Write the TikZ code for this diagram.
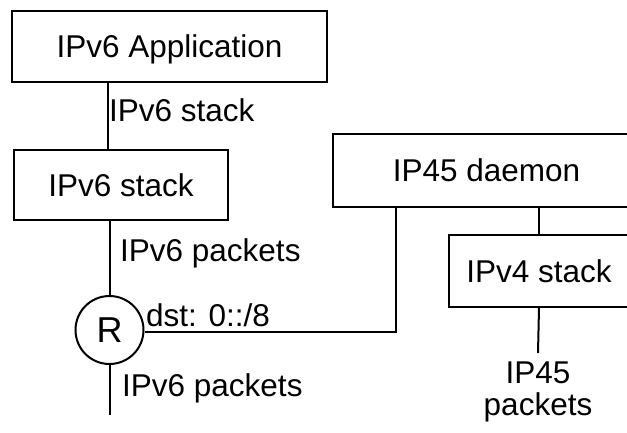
\documentclass[tikz,border=0pt]{standalone}
\usepackage{fontspec}
\setmainfont{Liberation Sans}
\begin{document}
\begin{tikzpicture}[x=1pt,y=-1pt,
  every node/.style={font=\fontsize{31.5pt}{32pt}\selectfont},
  boxnode/.style={draw, line width=2pt, rectangle, inner sep=0pt, text height=22.5pt, text depth=0pt},
  router/.style={draw, circle, line width=2pt, minimum size=68pt, inner sep=0pt, font=\fontsize{36pt}{36pt}\selectfont, text height=25.8pt, text depth=0pt},
  lbl/.style={inner sep=0pt, anchor=base west},
  wire/.style={line width=2pt}]
\useasboundingbox (0,0) rectangle (627,432);
\node[boxnode, minimum width=315pt, minimum height=71pt] (app) at (169.5,46.5) {IPv6 Application};
\node[boxnode, minimum width=214pt, minimum height=70pt] (v6) at (121,185) {IPv6 stack};
\node[router] (r) at (109.5,330) {R};
\node[boxnode, minimum width=307pt, minimum height=73pt] (daemon) at (486.5,170.5) {IP45 daemon};
\node[boxnode, minimum width=180pt, minimum height=72pt] (v4) at (539,271) {IPv4 stack};
\node[inner sep=0pt, anchor=north, align=center] (ip45) at (538,362) {IP45\\packets};
\coordinate (bend) at (396,332);
\coordinate (end) at (109.5,415);
\draw[wire] (app.south -| 107.5,0) -- (v6.north -| 107.5,0);
\draw[wire] (v6.south -| r) -- (r.north);
\draw[wire] (r.south) -- (end);
\draw[wire] (r.east |- bend) -- (bend) -- (bend |- daemon.south);
\draw[wire] (daemon.south -| v4) -- (v4.north);
\draw[wire] (v4.south) -- ([yshift=9pt]ip45.north);
\node[lbl] (l1) at (109,121) {IPv6 stack};
\node[lbl] (l2) at (120,261) {IPv6 packets};
\node[lbl] (l3) at (146,326) {dst: 0::/8};
\node[lbl] (l4) at (122,396) {IPv6 packets};
\end{tikzpicture}
\end{document}
